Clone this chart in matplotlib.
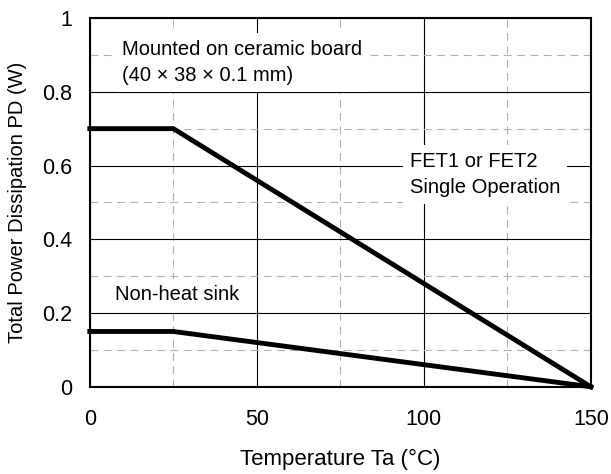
import matplotlib
matplotlib.use("Agg")
import matplotlib.pyplot as plt
from matplotlib.ticker import MultipleLocator

plt.rcParams['font.family'] = ['Liberation Sans', 'DejaVu Sans']

# Data
temp_ceramic = [0, 25, 150]
pd_ceramic = [0.7, 0.7, 0.0]
temp_nosink = [0, 25, 150]
pd_nosink = [0.15, 0.15, 0.0]
xticks = [0, 50, 100, 150]
yticks = [0, 0.2, 0.4, 0.6, 0.8, 1]
ytick_labels = ['0', '0.2', '0.4', '0.6', '0.8', '1']

fig = plt.figure(figsize=(6.11, 4.74), dpi=100)
ax = fig.add_axes([0.147, 0.184, 0.82, 0.778])

ax.set_xlim(0, 150)
ax.set_ylim(0, 1)
ax.set_xticks(xticks)
ax.set_xticklabels([str(t) for t in xticks])
ax.set_yticks(yticks)
ax.set_yticklabels(ytick_labels)
ax.xaxis.set_minor_locator(MultipleLocator(25))
ax.yaxis.set_minor_locator(MultipleLocator(0.1))
ax.tick_params(which='both', length=0)
ax.tick_params(axis='x', pad=16, labelsize=15.5)
ax.tick_params(axis='y', pad=12.5, labelsize=15.5)

ax.grid(which='major', color='black', linewidth=0.8)
ax.grid(which='minor', color='#b0b0b0', linewidth=0.8, linestyle=(0, (7, 5)))
ax.set_axisbelow(True)
for s in ax.spines.values():
    s.set_linewidth(1.5)
    s.set_color('black')

ax.plot(temp_ceramic, pd_ceramic, color='black', linewidth=3.5, solid_joinstyle='miter', clip_on=False, zorder=3)
ax.plot(temp_nosink, pd_nosink, color='black', linewidth=3.5, solid_joinstyle='miter', clip_on=False, zorder=3)

bbox = dict(facecolor='white', edgecolor='none', pad=5)
ax.text(9.6, 0.88, 'Mounted on ceramic board\n(40 \u00d7 38 \u00d7 0.1 mm)', fontsize=14.5,
        va='center', ha='left', linespacing=1.5, bbox=bbox, zorder=2)
ax.text(95.8, 0.575, 'FET1 or FET2\nSingle Operation', fontsize=14.5,
        va='center', ha='left', linespacing=1.5, bbox=bbox, zorder=2)
ax.text(7.5, 0.249, 'Non-heat sink', fontsize=14.5,
        va='center', ha='left', bbox=bbox, zorder=2)

ax.set_xlabel('Temperature Ta (\u00b0C)', fontsize=16, va='center')
ax.xaxis.set_label_coords(0.5, -0.198)
ax.set_ylabel('Total Power Dissipation PD (W)', fontsize=14.5, va='center')
ax.yaxis.set_label_coords(-0.145, 0.5)

fig.savefig('out.png', dpi=100)
